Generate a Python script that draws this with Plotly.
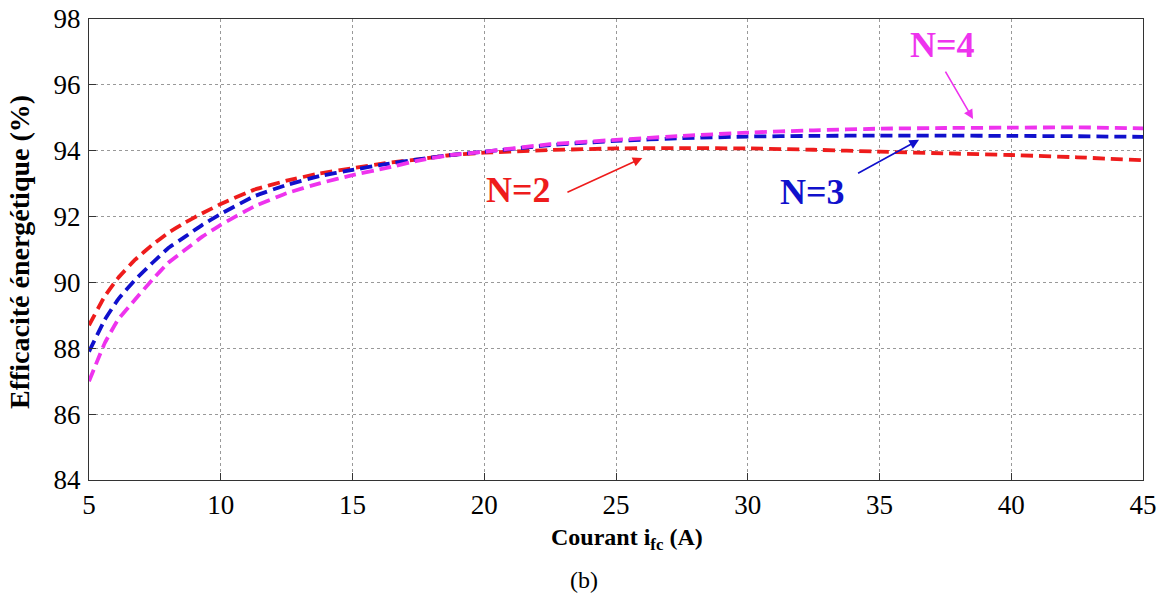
import plotly.graph_objects as go

x_vals = [5, 5.6, 6.1, 6.75, 7.4, 8, 8.65, 9.3, 10, 11.25, 12.5, 13.75, 15, 16.25, 17.5, 18.75,
          20, 22.5, 25, 27.5, 30, 32.5, 35, 37.5, 40, 42.5, 45]
n2_vals = [88.7, 89.58, 90.13, 90.69, 91.14, 91.5, 91.82, 92.1, 92.38, 92.81, 93.09, 93.31, 93.47, 93.62,
           93.74, 93.87, 93.94, 94.02, 94.07, 94.08, 94.07, 94.03, 93.97, 93.92, 93.87, 93.8, 93.71]
n3_vals = [87.9, 88.87, 89.48, 90.08, 90.59, 91.04, 91.39, 91.75, 92.08, 92.61, 92.96, 93.23, 93.42, 93.59,
           93.74, 93.87, 93.97, 94.17, 94.3, 94.38, 94.43, 94.45, 94.46, 94.46, 94.45, 94.44, 94.42]
n4_vals = [87.0, 88.16, 88.87, 89.48, 90.08, 90.59, 90.99, 91.39, 91.75, 92.3, 92.71, 93.01, 93.26, 93.47,
           93.7, 93.87, 93.97, 94.2, 94.33, 94.45, 94.55, 94.62, 94.67, 94.69, 94.7, 94.71, 94.68]

x_ticks = [5, 10, 15, 20, 25, 30, 35, 40, 45]
y_ticks = [84, 86, 88, 90, 92, 94, 96, 98]

series = [("N=2", n2_vals, "#ee1c1c"), ("N=3", n3_vals, "#1010cc"), ("N=4", n4_vals, "#ee33ee")]

fig = go.Figure()
for name, vals, col in series:
    fig.add_trace(go.Scatter(x=x_vals, y=vals, mode="lines", name=name,
                             line=dict(color=col, width=3.8, dash="12px,6px", shape="spline", smoothing=0.3)))

serif = "Liberation Serif, Times New Roman, serif"
axis_common = dict(showline=True, linecolor="#333", linewidth=1, mirror=True,
                   ticks="inside", ticklen=7, tickcolor="#333",
                   showgrid=True, gridcolor="#999", griddash="dot", gridwidth=1,
                   zeroline=False, ticklabeloverflow="allow", automargin=False,
                   tickfont=dict(family=serif, size=27, color="black"))

fig.update_xaxes(range=[5, 45], tickvals=x_ticks, ticklabelstandoff=1, **axis_common)
fig.update_yaxes(range=[84, 98], tickvals=y_ticks, ticklabelstandoff=2, **axis_common)

PW, PH = 1054, 461  # plot area in px

annots = []
annots.append(dict(x=21.3, y=92.8, text="<b>N=2</b>", showarrow=False,
                   font=dict(family=serif, size=36, color="#ee1c1c")))
annots.append(dict(x=32.45, y=92.75, text="<b>N=3</b>", showarrow=False,
                   font=dict(family=serif, size=36, color="#1010cc")))
annots.append(dict(x=37.4, y=97.2, text="<b>N=4</b>", showarrow=False,
                   font=dict(family=serif, size=36, color="#ee33ee")))
for (tx, ty, hx, hy, col) in [(23.1, 92.72, 26.0, 93.78, "#ee1c1c"),
                              (34.13, 93.29, 36.5, 94.33, "#1010cc"),
                              (37.47, 96.45, 38.55, 94.96, "#ee33ee")]:
    annots.append(dict(x=hx, y=hy, ax=tx, ay=ty, axref="x", ayref="y", xref="x", yref="y",
                       text="", showarrow=True, arrowhead=2, arrowsize=1.2, arrowwidth=1.6,
                       arrowcolor=col))
annots.append(dict(xref="paper", yref="paper", x=(627 - 89) / PW, y=-(539 - 480) / PH,
                   text="<b>Courant i<sub>fc</sub> (A)</b>", showarrow=False,
                   font=dict(family=serif, size=24, color="black"), yanchor="middle"))
annots.append(dict(xref="paper", yref="paper", x=-(89 - 19) / PW, y=(480 - 252) / PH,
                   text="<b>Efficacité énergétique (%)</b>", showarrow=False, textangle=-90,
                   font=dict(family=serif, size=28, color="black"), xanchor="center", yanchor="middle"))
annots.append(dict(xref="paper", yref="paper", x=(584 - 89) / PW, y=-(580 - 480) / PH,
                   text="(b)", showarrow=False,
                   font=dict(family=serif, size=24, color="black"), yanchor="middle"))

fig.update_layout(width=1163, height=597, autosize=False,
                  margin=dict(l=89, r=20, t=19, b=117, autoexpand=False),
                  plot_bgcolor="white", paper_bgcolor="white",
                  showlegend=False, annotations=annots)

fig.write_html("out.html", config={"displayModeBar": False},
               post_script="document.body.style.margin='0';document.body.style.overflow='hidden';")
